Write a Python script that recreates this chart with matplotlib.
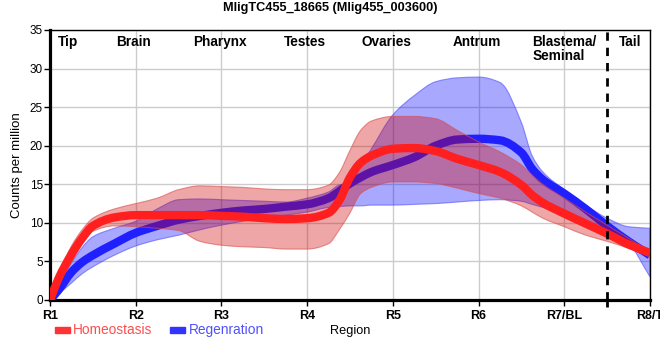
import matplotlib
matplotlib.use("Agg")
import numpy as np
import matplotlib.pyplot as plt
from matplotlib.patches import Rectangle, PathPatch
from matplotlib.path import Path

plt.rcParams['font.family'] = ['Liberation Sans', 'DejaVu Sans']

# ---------------- data ----------------
positions = [1, 1.1, 1.25, 1.375, 1.5, 1.75, 2, 2.25, 2.5, 2.75, 3, 3.25, 3.5, 3.75, 4,
             4.25, 4.375, 4.5, 4.625, 4.75, 5, 5.25, 5.5, 5.75, 6, 6.25, 6.5, 6.625,
             6.75, 7, 7.25, 7.5, 7.75, 8]

homeo_mean = [0, 2.8, 5.9, 8.0, 9.6, 10.7, 11.0, 11.0, 11.0, 11.0, 10.9, 10.8, 10.6, 10.5, 10.6,
              11.3, 12.9, 15.9, 17.8, 18.7, 19.6, 19.7, 19.3, 18.3, 17.5, 16.6, 14.9, 13.6,
              12.6, 11.2, 9.9, 8.6, 7.2, 6.1]
homeo_low = [0, 2.3, 5.0, 7.3, 8.9, 9.6, 9.5, 9.3, 9.0, 7.6, 7.1, 6.9, 6.8, 6.6, 6.6,
             7.3, 9.1, 11.3, 13.8, 14.6, 15.3, 15.3, 15.1, 14.5, 13.8, 13.2, 12.2, 11.4,
             10.6, 9.5, 8.4, 7.6, 6.7, 5.6]
homeo_high = [0, 3.3, 7.0, 9.1, 10.6, 11.8, 12.5, 13.2, 14.3, 14.8, 14.7, 14.6, 14.4, 14.3, 14.3,
              14.9, 16.5, 19.4, 22.0, 23.2, 23.8, 23.8, 23.5, 22.0, 20.5, 19.2, 17.5, 16.2,
              15.0, 13.2, 11.4, 9.7, 8.0, 6.3]

regen_mean = [0, 1.3, 3.6, 4.9, 5.8, 7.3, 8.7, 9.6, 10.4, 10.9, 11.3, 11.6, 11.8, 12.1, 12.4,
              13.2, 14.1, 15.1, 15.9, 16.6, 17.5, 18.5, 20.0, 20.8, 20.9, 20.7, 19.1, 17.0,
              15.6, 13.8, 11.8, 9.6, 7.6, 5.8]
regen_low = [0, 0.8, 2.2, 3.4, 4.3, 5.8, 7.0, 7.8, 8.4, 9.1, 9.7, 10.2, 10.6, 11.0, 11.4,
             12.0, 12.1, 12.2, 12.2, 12.3, 12.3, 12.4, 12.5, 12.7, 12.9, 13.0, 12.8, 12.4,
             12.0, 11.1, 10.0, 8.9, 7.3, 3.0]
regen_high = [0, 1.8, 4.8, 6.8, 8.2, 9.3, 10.2, 11.8, 13.0, 13.1, 13.0, 12.9, 12.8, 12.7, 13.2,
              14.0, 14.9, 15.1, 17.4, 19.6, 24.0, 26.5, 28.3, 28.8, 28.9, 28.2, 23.0, 18.7,
              16.6, 14.3, 12.3, 10.6, 9.5, 9.3]

tick_positions = [1, 2, 3, 4, 5, 6, 7, 8]
tick_labels = ['R1', 'R2', 'R3', 'R4', 'R5', 'R6', 'R7/BL', 'R8/T']
region_names = ['Tip', 'Brain', 'Pharynx', 'Testes', 'Ovaries', 'Antrum', 'Blastema/\nSeminal', 'Tail']
region_pos = [1.21, 1.97, 2.98, 3.97, 4.93, 5.98, 7.0, 7.77]
divider = 7.5


# ---------- smooth (monotone cubic) Bezier paths, drawn by matplotlib ----------
def tangents(x, y):
    x = np.asarray(x, float)
    y = np.asarray(y, float)
    h = np.diff(x)
    d = np.diff(y) / h
    m = np.zeros_like(y)
    m[0], m[-1] = d[0], d[-1]
    for i in range(1, len(y) - 1):
        if d[i - 1] * d[i] <= 0:
            m[i] = 0.0
        else:
            w1 = 2 * h[i] + h[i - 1]
            w2 = h[i] + 2 * h[i - 1]
            m[i] = (w1 + w2) / (w1 / d[i - 1] + w2 / d[i])
    return m


def bezier_segments(x, y):
    m = tangents(x, y)
    verts = []
    for i in range(len(x) - 1):
        h = x[i + 1] - x[i]
        verts += [(x[i] + h / 3, y[i] + m[i] * h / 3),
                  (x[i + 1] - h / 3, y[i + 1] - m[i + 1] * h / 3),
                  (x[i + 1], y[i + 1])]
    return verts


def curve_path(x, y):
    verts = [(x[0], y[0])] + bezier_segments(x, y)
    codes = [Path.MOVETO] + [Path.CURVE4] * (len(verts) - 1)
    return Path(verts, codes)


def band_path(x, lo, hi):
    verts = [(x[0], hi[0])] + bezier_segments(x, hi)
    verts += [(x[-1], lo[-1])]
    verts += bezier_segments(x[::-1], lo[::-1])
    verts += [(x[0], hi[0])]
    codes = ([Path.MOVETO] + [Path.CURVE4] * (3 * (len(x) - 1)) + [Path.LINETO]
             + [Path.CURVE4] * (3 * (len(x) - 1)) + [Path.CLOSEPOLY])
    return Path(verts, codes)


# ---------------- figure ----------------
fig = plt.figure(figsize=(6.6, 3.6), dpi=100)
ax = fig.add_axes([50 / 660, 60 / 360, 600 / 660, 270 / 360])

xs = list(positions)

ax.add_patch(PathPatch(band_path(xs, regen_low, regen_high), facecolor=(0.0, 0.0, 1.0, 0.34),
                       edgecolor=(0.3, 0.3, 1.0, 0.6), lw=0.8, zorder=2))
ax.add_patch(PathPatch(curve_path(xs, regen_mean), facecolor='none', edgecolor='#2020ff',
                       lw=6, capstyle='butt', joinstyle='round', zorder=3))
ax.add_patch(PathPatch(band_path(xs, homeo_low, homeo_high), facecolor=(0.82, 0.0, 0.0, 0.35),
                       edgecolor=(0.85, 0.3, 0.3, 0.6), lw=0.8, zorder=4))
ax.add_patch(PathPatch(curve_path(xs, homeo_mean), facecolor='none', edgecolor='#ff1f1f',
                       lw=6, capstyle='butt', joinstyle='round', zorder=5))

ax.axvline(divider, color='black', lw=2, linestyle=(0, (3, 2.5)), zorder=6)

ax.set_xlim(1, 8)
ax.set_ylim(0, 35)
ax.set_xticks(tick_positions)
ax.set_xticklabels(tick_labels, fontsize=9, fontweight='bold')
ax.set_yticks(range(0, 36, 5))
ax.tick_params(axis='y', labelsize=8.5, length=4, width=1, pad=1)
ax.tick_params(axis='x', length=4, width=1, pad=3)
ax.set_xticks([divider], minor=True)
ax.tick_params(axis='x', which='minor', length=5, width=2)
ax.grid(True, color='#cccccc', lw=1, zorder=0)
ax.set_axisbelow(True)

for side in ['left', 'bottom']:
    ax.spines[side].set_linewidth(2.3)
for side in ['top', 'right']:
    ax.spines[side].set_linewidth(1)

for name, p in zip(region_names, region_pos):
    ax.text(p, 34.4, name, ha='center', va='top', fontsize=9.8, fontweight='bold',
            multialignment='left', linespacing=1.0, zorder=7)

ax.set_ylabel('Counts per million', fontsize=9.5, labelpad=5)

fig.text(330 / 660, 1 - 8 / 360, 'MligTC455_18665 (Mlig455_003600)', ha='center', va='center',
         fontsize=9.2, fontweight='bold')
fig.text(350 / 660, 1 - 331 / 360, 'Region', ha='center', va='center', fontsize=9.2)

# legend
fig.patches.append(Rectangle((55 / 660, 1 - 333 / 360), 15 / 660, 6 / 360,
                             transform=fig.transFigure, color='#ff3333'))
fig.text(73 / 660, 1 - 330 / 360, 'Homeostasis', ha='left', va='center', fontsize=9.9,
         color='#ff4d4d')
fig.patches.append(Rectangle((170 / 660, 1 - 333 / 360), 15 / 660, 6 / 360,
                             transform=fig.transFigure, color='#3333ff'))
fig.text(189 / 660, 1 - 330 / 360, 'Regenration', ha='left', va='center', fontsize=9.9,
         color='#5050ff')

fig.savefig('out.png', dpi=100)
